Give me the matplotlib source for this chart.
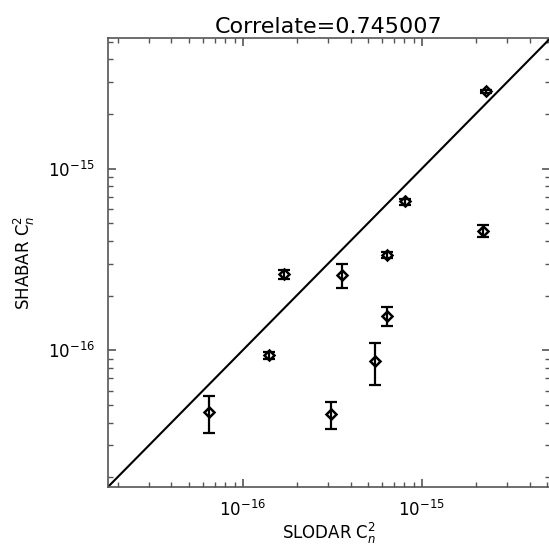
import numpy as np
import matplotlib
matplotlib.use("Agg")
import matplotlib.pyplot as plt
from matplotlib.ticker import LogLocator, FixedLocator, NullFormatter

# SLODAR vs SHABAR Cn^2 values
slodar = [6.45e-17, 1.40e-16, 1.69e-16, 3.10e-16, 3.56e-16, 5.51e-16,
          6.37e-16, 6.37e-16, 8.04e-16, 2.20e-15, 2.28e-15]
shabar = [4.56e-17, 9.38e-17, 2.63e-16, 4.43e-17, 2.60e-16, 8.73e-17,
          1.54e-16, 3.35e-16, 6.59e-16, 4.54e-16, 2.67e-15]
shabar_err = [1.05e-17, 0.40e-17, 1.5e-17, 0.73e-17, 4.0e-17, 2.3e-17,
              1.8e-17, 1.4e-17, 2.5e-17, 3.5e-17, 5.0e-17]
major_ticks = [1e-16, 1e-15]
title = "Correlate=0.745007"
lims = [1.76e-17, 5.2e-15]

fig = plt.figure(figsize=(5.49, 5.46), dpi=100)
ax = fig.add_axes([0.196, 0.1075, 0.806, 0.822])

# one-to-one line
ax.plot(lims, lims, color="black", lw=1.5)

# diamonds under, error bars on top (as in the IDL plot)
ax.plot(slodar, shabar, "D", mfc="white", mec="black", mew=1.8, ms=5,
        zorder=2)
ax.errorbar(slodar, shabar, yerr=shabar_err, fmt="none", ecolor="black",
            elinewidth=1.6, capsize=4.5, capthick=1.6, zorder=3)

ax.set_xscale("log")
ax.set_yscale("log")
ax.set_xlim(lims)
ax.set_ylim(lims)

for a in (ax.xaxis, ax.yaxis):
    a.set_major_locator(FixedLocator(major_ticks))
    a.set_minor_locator(LogLocator(base=10, subs=np.arange(2, 10)))
    a.set_minor_formatter(NullFormatter())

ax.tick_params(which="both", direction="in", top=True, right=True,
               color="#555555", labelsize=12)
ax.tick_params(which="major", length=6, width=1.2, pad=9)
ax.tick_params(which="minor", length=3.5, width=1.0)
for s in ax.spines.values():
    s.set_color("#555555")
    s.set_linewidth(1.2)

ax.set_title(title, fontsize=16, pad=4)
ax.set_xlabel(r"SLODAR C$_n^2$", fontsize=12, labelpad=1)
ax.set_ylabel(r"SHABAR C$_n^2$", fontsize=12, labelpad=8)

fig.savefig("out.png", dpi=100)
